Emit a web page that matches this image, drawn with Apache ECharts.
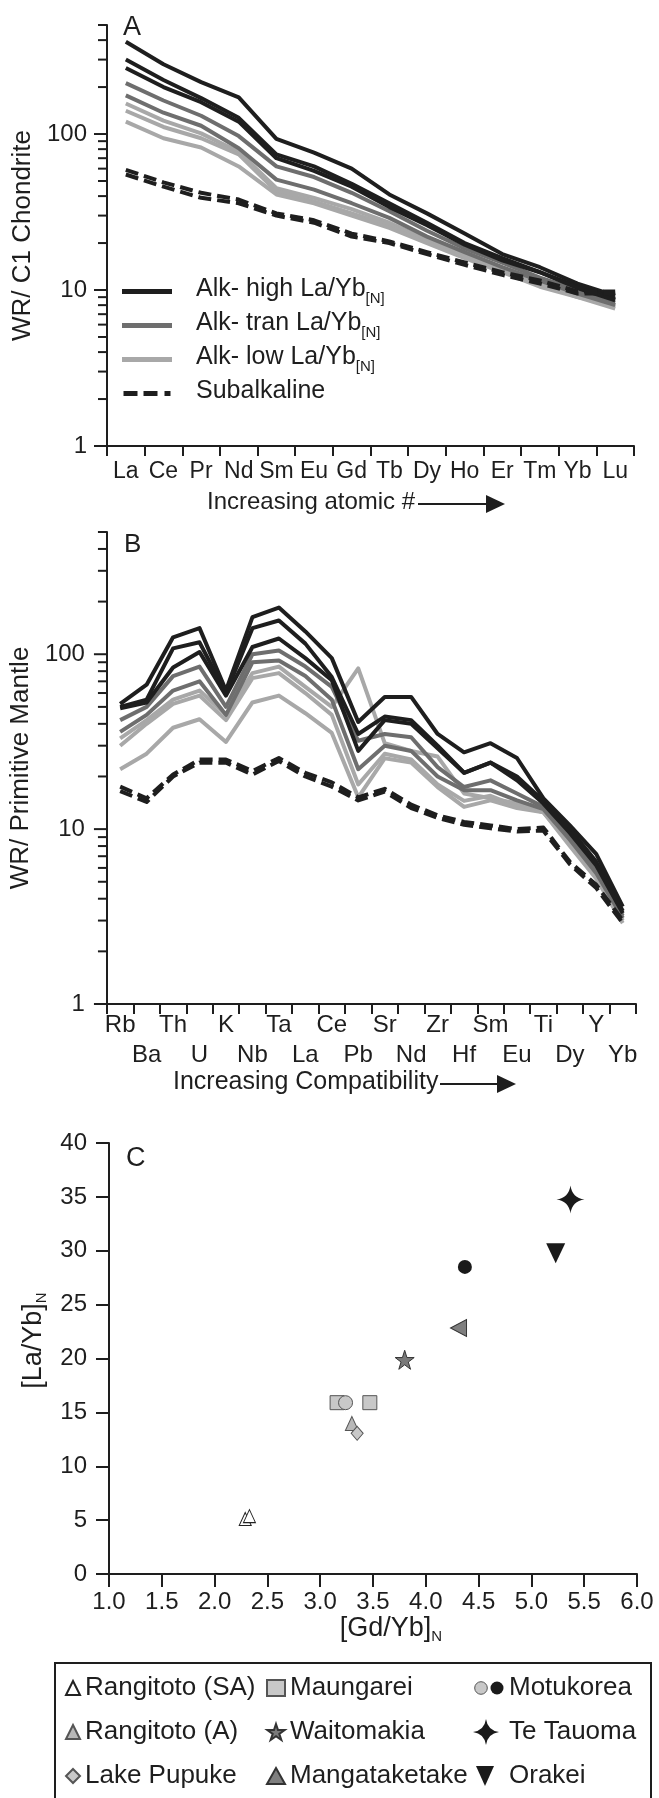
<!DOCTYPE html>
<html><head><meta charset="utf-8">
<script src="https://cdn.jsdelivr.net/npm/echarts@6/dist/echarts.min.js"></script>
<style>html,body{margin:0;padding:0;background:#fff}#c{width:659px;height:1798px}</style>
</head><body><div id="c"></div>
<script>
const FONT = "'Liberation Sans',Arial,sans-serif";
const INK = '#1e1e1e', C_HIGH = '#1e1e1e', C_TRAN = '#6e6e6e', C_LOW = '#a8a8a8';

// ---------- Panel A: REE / C1 chondrite ----------
const reeElements = ['La','Ce','Pr','Nd','Sm','Eu','Gd','Tb','Dy','Ho','Er','Tm','Yb','Lu'];
const reeHigh1 = [390, 280, 215, 172, 93, 76, 60, 41, 31, 23, 17, 14, 11, 9.2];
const reeHigh2 = [300, 222, 170, 127, 74, 62, 48, 36, 27, 20, 16, 13, 10.5, 8.8];
const reeHigh3 = [265, 200, 160, 120, 70, 58, 46, 34, 26, 19.5, 15.5, 13, 10.3, 8.6];
const reeTran1 = [212, 164, 131, 97, 62, 53, 42, 32, 24, 18.5, 15, 12, 10, 8.3];
const reeTran2 = [177, 137, 113, 81, 51, 44, 36, 29, 22, 17.5, 14, 11.5, 9.5, 8];
const reeLow1 = [157, 122, 101, 77, 45, 39, 33, 27, 21, 17, 13.5, 11, 9.2, 7.8];
const reeLow2 = [141, 111, 94, 74, 43, 37, 31, 26, 20.5, 16.5, 13.5, 11, 9, 8];
const reeLow3 = [120, 94, 82, 62, 41, 36, 30, 25, 20, 16, 13, 10.5, 9, 7.6];
const reeSub1 = [59, 49, 42, 38, 31, 28, 23, 20.5, 17.5, 15, 13, 11.5, 9.8, 9.8];
const reeSub2 = [55, 46, 39, 36, 30, 27, 22, 20, 17, 14.5, 12.5, 11, 9.5, 9.5];

// ---------- Panel B: spider / primitive mantle ----------
const spiderElements = ['Rb','Ba','Th','U','K','Nb','Ta','La','Ce','Pb','Sr','Nd','Zr','Hf','Sm','Eu','Ti','Dy','Y','Yb'];
const pmHigh1 = [52, 67, 125, 141, 62, 163, 185, 135, 95, 41, 57, 57, 35, 27.5, 31, 25.5, 15, 10.5, 7.2, 3.6];
const pmHigh2 = [50, 55, 108, 117, 60, 141, 156, 115, 74, 35, 44, 42, 30, 21, 24, 20, 14.5, 10, 6.5, 3.4];
const pmHigh3 = [49, 53, 84, 103, 58, 110, 123, 95, 71, 28, 42, 40, 29, 21, 24, 19, 14, 9.5, 6.2, 3.3];
const pmTran1 = [42, 50, 75, 85, 50, 100, 105, 85, 65, 32, 35, 33.5, 22.6, 17.4, 19, 16, 13.4, 9, 5.8, 3.2];
const pmTran2 = [36, 45, 62, 70, 45, 90, 92, 75, 55, 22, 30, 28, 20, 16.7, 16.7, 14.6, 13, 8.7, 5.6, 3.1];
const pmLow1 = [33, 42, 55, 62, 45, 78, 85, 65, 50, 83, 31, 28, 26, 16, 15, 14, 12.5, 8.5, 5.5, 3.1];
const pmLow2 = [30, 40, 52, 58, 42, 73, 78, 60, 45, 18, 27, 25, 18, 14.5, 15.5, 13.5, 12.5, 8.3, 5.4, 3.0];
const pmLow3 = [22, 27, 38, 42.5, 31.5, 53, 58, 46, 35.5, 15.2, 25.4, 24, 17.4, 13.4, 14.6, 13.2, 12.5, 8, 5.2, 2.9];
const pmSub1 = [17.5, 15, 20.5, 25, 25, 21.5, 25.5, 21, 18.5, 15.2, 17, 13.8, 12, 11, 10.5, 10, 10.2, 6.5, 4.8, 3.0];
const pmSub2 = [16.5, 14.3, 20, 24, 24, 20.5, 24.5, 20, 17.5, 14.6, 16.4, 13.2, 11.6, 10.6, 10.1, 9.7, 9.8, 6.3, 4.6, 2.9];

const logLabelValues = [1, 10, 100];
const logMinorValues = [2,3,4,5,6,7,8,9,20,30,40,50,60,70,80,90,200,300,400,500];

// ---------- Panel C: [La/Yb]N vs [Gd/Yb]N ----------
const ptRangitotoSA = [[2.29, 5.11], [2.33, 5.37]];
const ptMaungarei = [[3.16, 15.9], [3.47, 15.9]];
const ptMotukoreaGrey = [[3.24, 15.9]];
const ptMotukoreaBlack = [[4.37, 28.5]];
const ptRangitotoA = [[3.30, 13.97]];
const ptWaitomakia = [[3.80, 19.88]];
const ptTeTauoma = [[5.37, 34.75]];
const ptLakePupuke = [[3.35, 13.06]];
const ptMangataketake = [[4.31, 22.83]];
const ptOrakei = [[5.23, 29.76]];
const xTicksC = {min: 1, max: 6, interval: 0.5};
const yTicksC = {min: 0, max: 40, interval: 5};

const STAR5 = 'path://M50,0 L61.8,35.4 L100,35.4 L69.1,57.3 L80.9,92.7 L50,70.8 L19.1,92.7 L30.9,57.3 L0,35.4 L38.2,35.4 Z';
const STAR4 = 'path://M50,0 Q56,44 100,50 Q56,56 50,100 Q44,56 0,50 Q44,44 50,0 Z';
function svgIcon(w, h, body){
  const s = `<svg xmlns="http://www.w3.org/2000/svg" width="${w}" height="${h}" viewBox="0 0 ${w} ${h}">${body}</svg>`;
  return 'image://data:image/svg+xml;charset=utf-8,' + encodeURIComponent(s);
}
const iconMotukorea = svgIcon(32, 26, '<circle cx="9" cy="13" r="6.3" fill="#c8c8c8" stroke="#555" stroke-width="1"/><circle cx="25" cy="13" r="6.5" fill="#1a1a1a"/>');
const iconTeTauoma = svgIcon(32, 26, '<path d="M14,0 Q15.6,11.4 27,13 Q15.6,14.6 14,26 Q12.4,14.6 1,13 Q12.4,11.4 14,0 Z" fill="#1a1a1a"/>');
const iconOrakei = svgIcon(32, 26, '<path d="M4,3 L22,3 L13,23 Z" fill="#1a1a1a"/>');
const ICON_SOLID = 'path://M0,0 H50 V5 H0 Z';
const ICON_DASH = 'path://M0,0 H14 V5 H0 Z M20,0 H34 V5 H20 Z M41,0 H47 V5 H41 Z';

// ---------- build series ----------
const series = [];
function addLines(rows, name, color, dashed, xi, yi){
  rows.forEach(r => series.push({
    type: 'line', name, xAxisIndex: xi, yAxisIndex: yi, data: r,
    symbol: 'none', showSymbol: false, silent: true, animation: false,
    lineStyle: {color, width: 4, type: dashed ? [13, 6] : 'solid', cap: 'butt', join: 'round'},
    itemStyle: {color}, z: 3
  }));
}
addLines([reeLow1, reeLow2, reeLow3], 'Alk- low La/Yb', C_LOW, false, 0, 0);
addLines([reeTran1, reeTran2], 'Alk- tran La/Yb', C_TRAN, false, 0, 0);
addLines([reeHigh1, reeHigh2, reeHigh3], 'Alk- high La/Yb', C_HIGH, false, 0, 0);
addLines([reeSub1, reeSub2], 'Subalkaline', INK, true, 0, 0);
addLines([pmLow1, pmLow2, pmLow3], 'B-low', C_LOW, false, 1, 1);
addLines([pmTran1, pmTran2], 'B-tran', C_TRAN, false, 1, 1);
addLines([pmHigh1, pmHigh2, pmHigh3], 'B-high', C_HIGH, false, 1, 1);
addLines([pmSub1, pmSub2], 'B-sub', INK, true, 1, 1);

function tickSeries(xi, yi){
  const data = logLabelValues.map(v => [v, 1, 0]).concat(logMinorValues.map(v => [v, 0, 0]));
  series.push({
    type: 'custom', xAxisIndex: xi, yAxisIndex: yi, data, silent: true, animation: false,
    encode: {x: 2, y: 0}, clip: false, z: 5,
    renderItem: (params, api) => {
      const y = api.coord([0, api.value(0)])[1];
      const x0 = params.coordSys.x;
      const len = api.value(1) ? 13 : 9;
      return {type: 'line', shape: {x1: x0 - len, y1: y, x2: x0, y2: y}, style: {stroke: INK, lineWidth: 2}};
    }
  });
}
tickSeries(0, 0);
tickSeries(1, 1);

function scatter(name, data, symbol, size, color, border, rotate){
  series.push({
    type: 'scatter', name, data, xAxisIndex: 2, yAxisIndex: 2, symbol, symbolSize: size,
    symbolRotate: rotate || 0, silent: true, animation: false, z: 4,
    itemStyle: {color, borderColor: border || color, borderWidth: border ? 1 : 0, opacity: 1}
  });
}
scatter('Rangitoto (SA)', ptRangitotoSA, 'triangle', [12, 13], '#ffffff', '#222');
scatter('Maungarei', ptMaungarei, 'rect', 14, '#c8c8c8', '#555');
scatter('Rangitoto (A)', ptRangitotoA, 'triangle', [13, 14], '#b8b8b8', '#555');
scatter('Lake Pupuke', ptLakePupuke, 'diamond', [12, 14], '#c8c8c8', '#555');
scatter('Motukorea', ptMotukoreaGrey, 'circle', 14, '#c8c8c8', '#555');
scatter('Motukorea', ptMotukoreaBlack, 'circle', 14, '#1a1a1a');
scatter('Waitomakia', ptWaitomakia, STAR5, 19, '#7a7a7a', '#333');
scatter('Mangataketake', ptMangataketake, 'triangle', [17, 16], '#7f7f7f', '#333', 90);
scatter('Te Tauoma', ptTeTauoma, STAR4, 28, '#1a1a1a');
scatter('Orakei', ptOrakei, 'triangle', [19, 20], '#1a1a1a', null, 180);

// ---------- axes ----------
const axisLine = {show: true, onZero: false, lineStyle: {color: INK, width: 2}};
const lbl = {color: INK, fontFamily: FONT, fontSize: 24};
function logY(gi, name, gap, margin){
  return {
    type: 'log', logBase: 10, min: 1, max: 500, gridIndex: gi,
    name, nameLocation: 'middle', nameGap: gap,
    nameTextStyle: {color: INK, fontFamily: FONT, fontSize: 26},
    axisLine, axisTick: {show: false}, splitLine: {show: false}, minorTick: {show: false},
    axisLabel: Object.assign({}, lbl, {margin, showMaxLabel: false,
      formatter: v => logLabelValues.includes(Math.round(v)) && Math.abs(v - Math.round(v)) < 1e-6 ? String(Math.round(v)) : ''})
  };
}
const legendText = {color: INK, fontFamily: FONT, fontSize: 26, lineHeight: 28};

const option = {
  animation: false,
  backgroundColor: '#fff',
  textStyle: {fontFamily: FONT},
  grid: [
    {left: 107, top: 25, width: 527, height: 421},
    {left: 101, top: 532, width: 535, height: 472},
    {left: 109, top: 1143, width: 528, height: 431}
  ],
  xAxis: [
    {type: 'category', gridIndex: 0, data: reeElements, boundaryGap: true, axisLine,
     axisTick: {show: true, length: 10, lineStyle: {color: INK, width: 2}},
     axisLabel: Object.assign({}, lbl, {fontSize: 23, interval: 0, margin: 14})},
    {type: 'category', gridIndex: 1, data: spiderElements, boundaryGap: true, axisLine,
     axisTick: {show: true, length: 10, lineStyle: {color: INK, width: 2}},
     axisLabel: Object.assign({}, lbl, {interval: 0, margin: 6, lineHeight: 30,
       formatter: (v, i) => i % 2 ? '\n' + v : v})},
    {type: 'value', gridIndex: 2, min: xTicksC.min, max: xTicksC.max, interval: xTicksC.interval,
     axisLine, splitLine: {show: false},
     axisTick: {show: true, length: 13, lineStyle: {color: INK, width: 2}},
     axisLabel: Object.assign({}, lbl, {margin: 16, formatter: v => v.toFixed(1)}),
     name: '[Gd/Yb]{s|N}', nameLocation: 'middle', nameGap: 38,
     nameTextStyle: {color: INK, fontFamily: FONT, fontSize: 27, padding: [0, 0, 0, 36],
       rich: {s: {fontFamily: FONT, fontSize: 15, color: INK, padding: [16, 0, 0, 0]}}}}
  ],
  yAxis: [
    logY(0, 'WR/ C1 Chondrite', 60, 20),
    logY(1, 'WR/ Primitive Mantle', 54, 22),
    {type: 'value', gridIndex: 2, min: yTicksC.min, max: yTicksC.max, interval: yTicksC.interval,
     axisLine, splitLine: {show: false},
     axisTick: {show: true, length: 13, lineStyle: {color: INK, width: 2}},
     axisLabel: Object.assign({}, lbl, {margin: 22}),
     name: '[La/Yb]{s|N}', nameLocation: 'middle', nameGap: 57,
     nameTextStyle: {color: INK, fontFamily: FONT, fontSize: 27, padding: [0, 0, 0, 36],
       rich: {s: {fontFamily: FONT, fontSize: 15, color: INK, padding: [16, 0, 0, 0]}}}}
  ],
  legend: [
    {left: 117, top: 272, orient: 'vertical', itemWidth: 50, itemHeight: 5, itemGap: 5,
     data: [{name: 'Alk- high La/Yb', icon: ICON_SOLID}, {name: 'Alk- tran La/Yb', icon: ICON_SOLID},
            {name: 'Alk- low La/Yb', icon: ICON_SOLID}, {name: 'Subalkaline', icon: ICON_DASH}],
     formatter: n => n === 'Subalkaline' ? '{m|Subalkaline}{s| }' : '{m|' + n + '}{s|[N]}',
     textStyle: {color: INK, fontFamily: FONT, fontSize: 25,
       rich: {m: {fontFamily: FONT, fontSize: 25, color: INK, padding: [0, 0, 0, 19], verticalAlign: 'top', lineHeight: 28},
              s: {fontFamily: FONT, fontSize: 15, color: INK, padding: [14, 0, 0, 0], verticalAlign: 'top'}}},
     selectedMode: false},
    {left: 60, top: 1669, orient: 'vertical', itemWidth: 14, itemHeight: 14, itemGap: 16,
     data: ['Rangitoto (SA)', 'Rangitoto (A)', 'Lake Pupuke'], selectedMode: false, textStyle: legendText},
    {left: 261, top: 1669, orient: 'vertical', itemWidth: 18, itemHeight: 16, itemGap: 16,
     data: ['Maungarei', 'Waitomakia', 'Mangataketake'], selectedMode: false, textStyle: legendText},
    {left: 467, top: 1669, orient: 'vertical', itemWidth: 32, itemHeight: 26, itemGap: 16,
     data: [{name: 'Motukorea', icon: iconMotukorea}, {name: 'Te Tauoma', icon: iconTeTauoma}, {name: 'Orakei', icon: iconOrakei}],
     selectedMode: false, textStyle: legendText}
  ],
  graphic: [
    {type: 'text', left: 123, top: 14, style: {text: 'A', fontFamily: FONT, fontSize: 27, fill: INK}},
    {type: 'text', left: 124, top: 532, style: {text: 'B', fontFamily: FONT, fontSize: 26, fill: INK}},
    {type: 'text', left: 126, top: 1145, style: {text: 'C', fontFamily: FONT, fontSize: 27, fill: INK}},
    {type: 'text', left: 207, top: 490, style: {text: 'Increasing atomic #', fontFamily: FONT, fontSize: 24, fill: INK}},
    {type: 'line', shape: {x1: 418, y1: 504, x2: 492, y2: 504}, style: {stroke: INK, lineWidth: 2}},
    {type: 'polygon', shape: {points: [[486, 495], [505, 504], [486, 513]]}, style: {fill: INK}},
    {type: 'text', left: 173, top: 1070, style: {text: 'Increasing Compatibility', fontFamily: FONT, fontSize: 25, fill: INK}},
    {type: 'line', shape: {x1: 440, y1: 1084, x2: 505, y2: 1084}, style: {stroke: INK, lineWidth: 2}},
    {type: 'polygon', shape: {points: [[497, 1075], [516, 1084], [497, 1093]]}, style: {fill: INK}},
    {type: 'rect', shape: {x: 55, y: 1663, width: 596, height: 150}, style: {fill: 'none', stroke: INK, lineWidth: 2}}
  ],
  series
};
const chart = echarts.init(document.getElementById('c'), null, {renderer: 'canvas', width: 659, height: 1798});
chart.setOption(option);
</script></body></html>
